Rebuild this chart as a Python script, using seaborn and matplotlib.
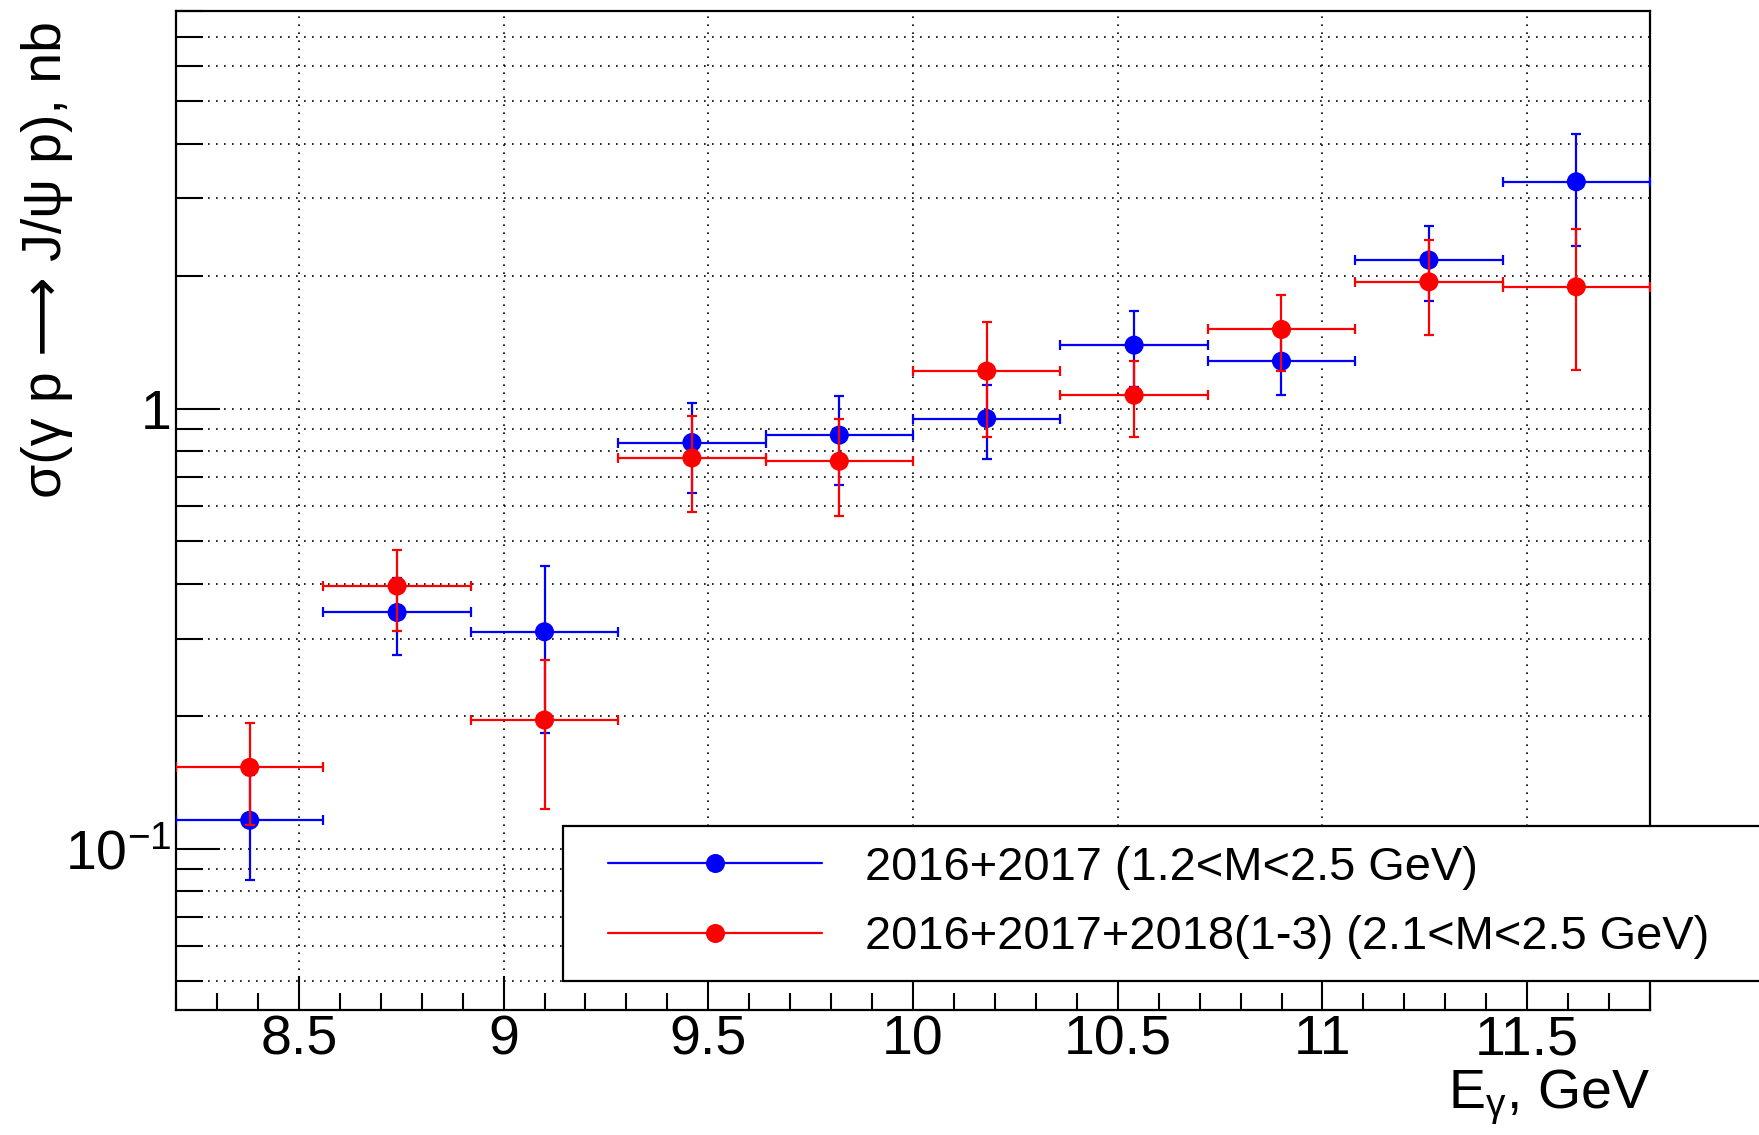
import numpy as np
import pandas as pd
import matplotlib
matplotlib.use("Agg")
import matplotlib.pyplot as plt
import seaborn as sns
from matplotlib.lines import Line2D
from matplotlib.patches import Rectangle
from matplotlib.ticker import FixedLocator, FixedFormatter, MultipleLocator, LogLocator, NullFormatter

# ---------------- data ----------------
energy = [8.38, 8.74, 9.10, 9.46, 9.82, 10.18, 10.54, 10.90, 11.26, 11.62]
energy_halfwidth = [0.18, 0.18, 0.18, 0.18, 0.18, 0.18, 0.18, 0.18, 0.18, 0.18]

sigma_2016_2017 = [0.116, 0.344, 0.311, 0.837, 0.870, 0.949, 1.393, 1.281, 2.174, 3.274]
err_2016_2017 = [0.031, 0.068, 0.128, 0.193, 0.200, 0.183, 0.274, 0.209, 0.420, 0.940]

sigma_2016_2018 = [0.153, 0.395, 0.196, 0.772, 0.759, 1.216, 1.072, 1.512, 1.940, 1.890]
err_2016_2018 = [0.040, 0.083, 0.073, 0.189, 0.190, 0.355, 0.211, 0.298, 0.470, 0.670]

series_labels = ["2016+2017 (1.2<M<2.5 GeV)", "2016+2017+2018(1-3) (2.1<M<2.5 GeV)"]
series_colors = ["#0000ff", "#ff0000"]

x_ticks = [8.5, 9, 9.5, 10, 10.5, 11, 11.5]
x_tick_labels = ["8.5", "9", "9.5", "10", "10.5", "11", "11.5"]
y_ticks = [0.1, 1]
y_tick_labels = [r"$10^{-1}$", "1"]

x_label = r"E$_{\gamma}$, GeV"
y_label = "σ(γ p ⟶ J/ψ p), nb"

# ---------------- style ----------------
sns.set_theme(style="ticks")
plt.rcParams['font.family'] = ['Liberation Sans', 'DejaVu Sans']
plt.rcParams['mathtext.fontset'] = 'custom'
plt.rcParams['mathtext.rm'] = 'Liberation Sans'
plt.rcParams['mathtext.it'] = 'Liberation Sans:italic'
plt.rcParams['mathtext.bf'] = 'Liberation Sans:bold'
plt.rcParams['mathtext.default'] = 'regular'
plt.rcParams['text.color'] = 'black'
plt.rcParams['axes.labelcolor'] = 'black'
plt.rcParams['xtick.color'] = 'black'
plt.rcParams['ytick.color'] = 'black'

W, H = 1759, 1135
fig = plt.figure(figsize=(W / 100, H / 100), dpi=100, facecolor='white')
ax = fig.add_axes([176 / W, 1 - 1010 / H, (1650 - 176) / W, (1010 - 11) / H])
ax.set_facecolor('white')

df = pd.concat([
    pd.DataFrame({'energy': energy, 'dE': energy_halfwidth, 'sigma': sigma_2016_2017,
                  'err': err_2016_2017, 'series': series_labels[0]}),
    pd.DataFrame({'energy': energy, 'dE': energy_halfwidth, 'sigma': sigma_2016_2018,
                  'err': err_2016_2018, 'series': series_labels[1]}),
], ignore_index=True)

ax.set_yscale('log')
for i, (lab, col) in enumerate(zip(series_labels, series_colors)):
    sub = df[df['series'] == lab]
    ax.errorbar(sub['energy'], sub['sigma'], xerr=sub['dE'], yerr=sub['err'],
                fmt='none', ecolor=col, elinewidth=1.6, capsize=3.8, capthick=1.6,
                zorder=3 + 2 * i)
    sns.scatterplot(data=sub, x='energy', y='sigma', color=col, s=188, marker='o',
                    edgecolor='none', linewidth=0, legend=False, ax=ax, zorder=4 + 2 * i)

ax.set_xlim(8.2, 11.8)
ax.set_ylim(0.043, 8.0)

ax.xaxis.set_major_locator(FixedLocator(x_ticks))
ax.xaxis.set_major_formatter(FixedFormatter(x_tick_labels))
ax.xaxis.set_minor_locator(MultipleLocator(0.1))
ax.yaxis.set_major_locator(FixedLocator(y_ticks))
ax.yaxis.set_major_formatter(FixedFormatter(y_tick_labels))
ax.yaxis.set_minor_locator(LogLocator(base=10, subs=np.arange(2, 10)))
ax.yaxis.set_minor_formatter(NullFormatter())

ax.tick_params(axis='both', which='both', direction='in', colors='black', width=1.5,
               top=False, right=False)
ax.tick_params(axis='x', which='major', length=24.5, labelsize=40, pad=3)
ax.tick_params(axis='x', which='minor', length=12)
ax.tick_params(axis='y', which='major', length=32, labelsize=40, pad=3)
ax.tick_params(axis='y', which='minor', length=19.5)

grid_kw = dict(color='black', linestyle=(0, (1, 3.8)), linewidth=1.2)
ax.grid(True, which='major', axis='x', **grid_kw)
ax.grid(True, which='both', axis='y', **grid_kw)
ax.set_axisbelow(True)

for sp in ax.spines.values():
    sp.set_color('black')
    sp.set_linewidth(1.6)

ax.set_xlabel(x_label, fontsize=40, loc='right', color='black')
ax.xaxis.set_label_coords(1.0, -0.058)
ax.set_ylabel(y_label, fontsize=40, loc='top', color='black')
ax.yaxis.set_label_coords(-0.0699, 0.990)

# legend box (extends past the right edge of the canvas as in the original)
box = Rectangle((563 / W, 1 - 981 / H), 1300 / W, 155 / H, transform=fig.transFigure,
                facecolor='white', edgecolor='black', linewidth=1.6, zorder=1)
fig.add_artist(box)

handles = [Line2D([0], [0], color=c, lw=1.6, marker='o', markersize=13.7,
                  markeredgewidth=0) for c in series_colors]
leg = fig.legend(handles, series_labels, loc='center left',
                 bbox_to_anchor=(608 / W, 1 - 902.5 / H), bbox_transform=fig.transFigure,
                 frameon=False, fontsize=33.8, handlelength=4.55, handletextpad=0.92,
                 borderpad=0, borderaxespad=0, labelspacing=0.55)
for t in leg.get_texts():
    t.set_color('black')

fig.savefig('out.png', dpi=100, facecolor='white')
